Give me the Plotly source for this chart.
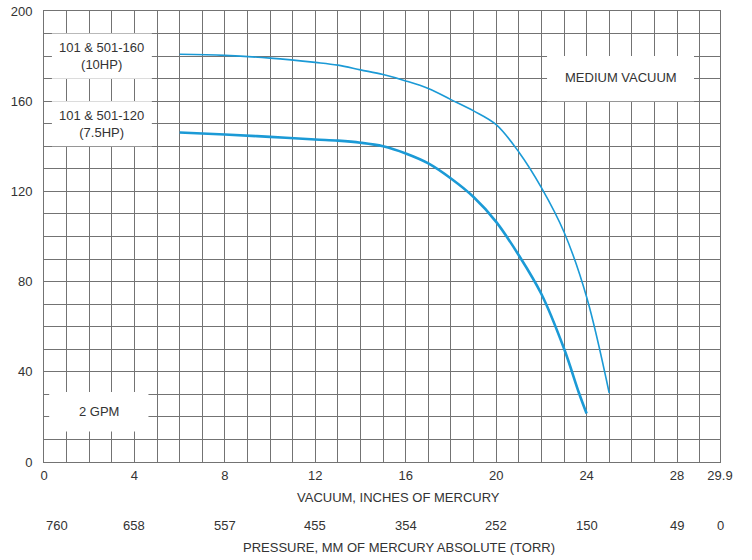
import plotly.graph_objects as go

# Data
vac_10hp = [6, 8, 10, 12, 13, 14, 15, 16, 17, 18, 19, 20, 21, 22, 23, 24, 25]
gpm_10hp = [180.8, 180.3, 179.1, 177.2, 176.0, 173.9, 171.8, 169.0, 165.6, 160.7, 155.7, 149.6, 137.5, 121.7, 102.0, 73.2, 30.6]

vac_75hp = [6, 8, 10, 12, 13, 14, 15, 16, 17, 18, 19, 20, 21, 22, 23, 23.67, 24]
gpm_75hp = [146.1, 145.2, 144.2, 143.0, 142.5, 141.6, 140.0, 136.8, 132.4, 125.7, 117.5, 106.5, 91.7, 74.5, 50.3, 30.4, 21.5]

vac_ticks = [0, 4, 8, 12, 16, 20, 24, 28, 29.9]
vac_labels = ["0", "4", "8", "12", "16", "20", "24", "28", "29.9"]
torr_labels = ["760", "658", "557", "455", "354", "252", "150", "49", "0"]
y_ticks = [0, 40, 80, 120, 160, 200]

LINE = "#1b9ad6"
GRID = "#737373"
TXT = "#333333"
FONT = "Liberation Sans, Arial, sans-serif"

fig = go.Figure()
fig.add_trace(go.Scatter(x=vac_10hp, y=gpm_10hp, mode="lines",
                         line=dict(color=LINE, width=1.6, shape="spline", smoothing=1.0),
                         name="101 & 501-160 (10HP)"))
fig.add_trace(go.Scatter(x=vac_75hp, y=gpm_75hp, mode="lines",
                         line=dict(color=LINE, width=2.6, shape="spline", smoothing=1.0),
                         name="101 & 501-120 (7.5HP)"))

# white label boxes over the grid
boxes = [
    (0.35, 4.77, 170, 190),
    (0.35, 4.77, 140, 160),
    (22.25, 28.75, 160, 180),
    (0.23, 4.62, 13.5, 31),
]
for x0, x1, y0, y1 in boxes:
    fig.add_shape(type="rect", xref="x", yref="y", x0=x0, x1=x1, y0=y0, y1=y1,
                  fillcolor="white", line=dict(width=0), layer="between")

labels = [
    (2.56, 180, "101 & 501-160<br>(10HP)"),
    (2.56, 150, "101 & 501-120<br>(7.5HP)"),
    (25.5, 170.5, "MEDIUM VACUUM"),
    (2.42, 22.5, "2 GPM"),
]
for x, y, t in labels:
    fig.add_annotation(x=x, y=y, xref="x", yref="y", text=t, showarrow=False,
                       font=dict(size=13, color=TXT, family=FONT), align="center")

# pressure (torr) tick row
for v, t in zip(vac_ticks, torr_labels):
    fig.add_annotation(x=v, y=0, xref="x", yref="paper", text=t, showarrow=False,
                       xanchor="left" if v == 0 else "center", yanchor="middle",
                       yshift=-63, font=dict(size=13, color=TXT, family=FONT))

fig.add_annotation(x=0.525, y=0, xref="paper", yref="paper", text="VACUUM, INCHES OF MERCURY",
                   showarrow=False, yanchor="middle", yshift=-35,
                   font=dict(size=13, color=TXT, family=FONT))
fig.add_annotation(x=0.525, y=0, xref="paper", yref="paper",
                   text="PRESSURE, MM OF MERCURY ABSOLUTE (TORR)",
                   showarrow=False, yanchor="middle", yshift=-85,
                   font=dict(size=13, color=TXT, family=FONT))

fig.update_xaxes(range=[0, 29.9], tickvals=vac_ticks, ticktext=vac_labels,
                 showgrid=True, gridcolor=GRID, gridwidth=1,
                 minor=dict(dtick=1, tick0=0, showgrid=True, gridcolor=GRID, gridwidth=1),
                 showline=True, linecolor=GRID, linewidth=1, mirror=True,
                 zeroline=False, ticks="", ticklabelstandoff=1, automargin=False,
                 tickfont=dict(size=13, color=TXT, family=FONT))
fig.update_yaxes(range=[0, 200], tickvals=y_ticks,
                 showgrid=True, gridcolor=GRID, gridwidth=1,
                 minor=dict(dtick=10, tick0=0, showgrid=True, gridcolor=GRID, gridwidth=1),
                 showline=True, linecolor=GRID, linewidth=1, mirror=True,
                 zeroline=False, ticks="", ticklabelstandoff=8, automargin=False,
                 tickfont=dict(size=13, color=TXT, family=FONT))

fig.update_layout(width=752, height=560, showlegend=False,
                  margin=dict(l=44, r=32, t=11, b=98, autoexpand=False),
                  plot_bgcolor="white", paper_bgcolor="white",
                  font=dict(family=FONT, color=TXT))

fig.write_html("out.html", config={"displayModeBar": False},
               post_script="document.body.style.margin='0';document.body.style.padding='0';")
